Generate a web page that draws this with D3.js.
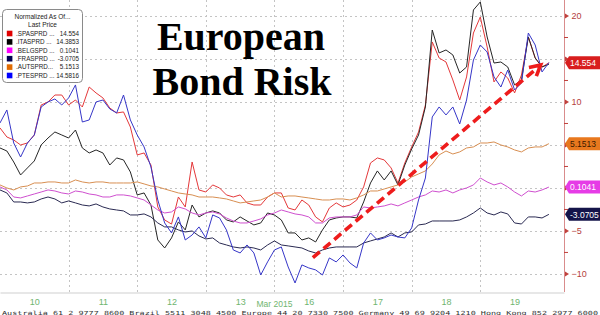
<!DOCTYPE html>
<html><head><meta charset="utf-8">
<script src="https://cdn.jsdelivr.net/npm/d3@7"></script>
<style>body{margin:0;background:#fff;overflow:hidden} svg{display:block}</style>
</head><body><svg id="c" width="600" height="315"></svg>
<script>
// ---------------- data ----------------
const dayLabels = ["10","11","12","13","16","17","18","19"];
const monthLabel = "Mar 2015";
const step = 0.1; // fraction of a trading day between readings
const yTicks = [20, 15, 10, 5, 0, -5, -10];
const yLabelTicks = [20, 10, -5, -10]; // the others sit under the value tags
const yMinorTicks = [17.5, 12.5, 7.5, 2.5, -2.5, -7.5];

const seriesNames = [".SPASPRD ...", ".ITASPRD ...", ".BELGSPD ...", ".FRASPRD ...", ".AUTSPRD...", ".PTESPRD ..."];
const lastPrices = ["14.554", "14.3853", "0.1041", "-3.0705", "5.1513", "14.5816"];

const spa = [6.98,5.93,5.58,5.0,5.23,6.16,9.65,10.0,10.81,10.81,
  9.65,10.23,9.42,11.74,11.05,10.47,9.30,8.72,8.84,7.09,
  3.84,4.07,2.67,-2.21,-3.72,-4.2,-1.05,-2.21,3.02,-0.23,
  -0.47,0.35,0,-0.81,-1.05,-0.81,-1.74,-1.98,-1.98,-1.05,
  -0.58,-0.58,-2.33,-2.56,-1.40,-1.98,-3.37,-3.95,-2.33,-1.74,
  -2.21,-1.98,-1.40,0.12,2.91,3.49,3.26,2.33,0.58,2.91,
  4.77,6.51,9.65,16.98,15.12,14.65,12.56,10.23,12.91,18.02,
  19.88,16.40,12.33,13.49,12.79,11.05,13.14,17.56,15.12,14.07,14.554];
const ita = [4.65,4.30,3.02,1.51,2.33,3.14,5.0,5.81,6.51,6.16,
  5.81,6.74,4.65,4.07,4.42,4.07,2.67,3.49,3.26,1.86,
  -0.81,-0.58,-1.98,-6.05,-6.98,-5.81,-3.95,-4.88,-1.98,-3.37,
  -2.91,-2.67,-2.91,-3.72,-3.95,-3.37,-3.84,-4.30,-4.07,-2.91,
  -3.14,-3.72,-5.23,-5.23,-6.05,-5.81,-6.28,-4.88,-3.72,-3.49,
  -3.37,-3.37,-3.49,-1.63,0.58,1.98,0.93,1.98,0.35,2.67,
  4.53,6.16,9.42,18.37,15.70,16.05,15.47,13.37,14.07,20.70,
  21.63,17.56,14.53,14.65,14.07,11.98,12.56,17.56,15.12,14.07,14.3853];
const belg = [0.12,-0.23,-1.05,-1.16,-0.93,-0.70,-0.47,-0.23,-0.35,-0.58,
  -0.70,-0.35,-0.47,-0.70,-0.81,-1.05,-1.05,-0.81,-0.81,-0.93,
  -1.16,-1.40,-1.98,-2.56,-2.91,-2.79,-2.21,-2.44,-2.91,-3.14,
  -2.91,-2.79,-3.02,-3.49,-3.84,-4.07,-4.07,-3.84,-3.60,-3.14,
  -2.91,-2.56,-2.79,-3.02,-3.14,-3.37,-4.07,-4.07,-3.49,-3.37,
  -3.37,-3.37,-3.14,-2.21,-2.33,-2.21,-2.09,-1.86,-2.09,-1.74,
  -1.40,-1.05,-0.81,-0.35,-0.47,-0.23,-0.58,-0.23,0,0.35,
  1.16,0.70,0.35,0.58,0.12,-0.47,-0.93,-0.35,-0.47,-0.23,0.1041];
const fra = [-0.23,-0.58,-1.63,-1.63,-1.74,-1.63,-1.28,-1.05,-1.28,-1.74,
  -1.51,-1.74,-1.98,-2.09,-1.86,-2.21,-2.44,-2.56,-2.67,-3.14,
  -3.14,-3.02,-3.37,-4.07,-4.53,-4.53,-4.88,-5.12,-5.0,-5.58,
  -5.93,-5.81,-6.40,-6.63,-6.86,-6.98,-6.86,-6.98,-7.21,-6.63,
  -6.16,-6.63,-6.74,-6.86,-6.98,-7.33,-7.56,-7.21,-6.98,-6.86,
  -6.86,-6.86,-6.86,-6.40,-6.16,-5.93,-5.70,-5.23,-5.70,-5.23,
  -5.12,-4.30,-4.19,-3.84,-3.84,-3.84,-3.84,-3.72,-3.37,-2.91,
  -2.33,-2.91,-3.14,-2.79,-3.02,-4.07,-4.19,-3.37,-3.37,-3.49,-3.0705];
const aut = [0.35,0,-0.23,0.12,0.23,0.58,0.58,0.70,0.70,0.58,
  0.58,0.93,0.70,0.58,0.70,0.70,0.58,0.58,0.58,0.58,
  0.70,0.47,0.23,0.12,-0.12,-0.35,-0.58,-0.70,-0.81,-1.05,
  -1.05,-1.05,-1.16,-1.28,-1.51,-1.74,-1.63,-1.51,-1.40,-1.05,
  -0.58,-1.05,-0.93,-0.93,-1.05,-1.16,-1.28,-1.40,-1.40,-1.28,
  -1.28,-1.40,-1.16,-0.81,-0.35,-0.35,-0.12,0.12,0.35,0.70,
  1.28,1.63,1.98,2.79,3.84,4.30,3.95,4.19,4.65,4.77,
  5.23,5.23,5.35,5.0,4.77,4.42,4.19,4.65,4.77,4.77,5.1513];
const pte = [7.56,9.07,5.23,3.60,5.23,6.16,9.42,10.0,10.35,9.65,
  10.47,11.98,7.67,7.91,10.0,10.23,9.19,8.72,10.81,7.91,
  6.16,4.77,2.44,-1.40,-4.07,-5.23,-3.37,-6.05,-5.47,-4.53,
  -5.81,-3.14,-3.49,-4.88,-7.21,-7.56,-6.63,-7.56,-10.12,-8.60,
  -7.21,-6.86,-9.19,-11.05,-8.95,-9.30,-9.53,-10.12,-8.14,-8.60,
  -7.79,-8.72,-9.30,-6.40,-5.23,-6.05,-5.81,-5.47,-5.70,-5.81,
  -4.65,-1.40,1.16,8.26,9.42,8.49,9.42,7.44,10.23,14.88,
  16.63,15.81,12.91,11.74,13.72,11.40,12.21,18.02,16.63,13.49,14.5816];

// annotation arrow in (trading day, value) coordinates
const arrowStart = [4.56, -8.1];
const arrowEnd = [7.88, 14.3];

// ---------------- styles ----------------
const lineColors = ["#e4383a", "#262626", "#cf4fcf", "#2a2a52", "#d88f52", "#3636c8"];
const swatchColors = ["#e00000", "#000000", "#ff00ff", "#000050", "#e06a00", "#0000ff"];
const tagDefs = [
  {idx: 0, fill: "#d81e1e", text: "#ffffff"},
  {idx: 4, fill: "#e8781e", text: "#3a1a00"},
  {idx: 2, fill: "#e63ce6", text: "#ffffff"},
  {idx: 3, fill: "#14144a", text: "#ffffff"}
];

const allSeries = [spa, ita, belg, fra, aut, pte];

const svg = d3.select("#c");
const W = 600, H = 315;
const plotR = 564, plotB = 292;

const x = d3.scaleLinear().domain([0, 8.22]).range([0, plotR]);
const y = d3.scaleLinear().domain([-12.1, 21.86]).range([plotB, 0]);

svg.append("rect").attr("width", W).attr("height", H).attr("fill", "#fff");

// grid
const grid = svg.append("g");
grid.selectAll("line.h").data(yTicks).join("line")
  .attr("x1", 0).attr("x2", plotR)
  .attr("y1", d => Math.round(y(d)) + 0.5).attr("y2", d => Math.round(y(d)) + 0.5)
  .attr("stroke", "#c4c4c4").attr("stroke-width", 1).attr("stroke-dasharray", "2,3");
grid.selectAll("line.v").data(d3.range(1, 8)).join("line")
  .attr("x1", d => Math.round(x(d)) + 0.5).attr("x2", d => Math.round(x(d)) + 0.5)
  .attr("y1", 0).attr("y2", plotB)
  .attr("stroke", "#c4c4c4").attr("stroke-width", 1).attr("stroke-dasharray", "2,3");

// bottom axis
const xAxis = d3.axisBottom(x)
  .tickValues(dayLabels.map((d, i) => i + 0.5))
  .tickFormat((d, i) => dayLabels[i])
  .tickSize(0).tickPadding(6);
const gx = svg.append("g").attr("transform", `translate(0,${plotB + 0.5})`).call(xAxis);
gx.select(".domain").attr("stroke", "#cfcfcf");
gx.selectAll("text").attr("fill", "#6fb56f").attr("font-family", "Liberation Sans, Arial, sans-serif").attr("font-size", 9);
svg.append("text").attr("x", x(4)).attr("y", 307).attr("text-anchor", "middle")
  .attr("fill", "#6fb56f").attr("font-family", "Liberation Sans, Arial, sans-serif").attr("font-size", 8.5)
  .text(monthLabel);

// lines
svg.append("clipPath").attr("id", "pc").append("rect")
  .attr("x", 0).attr("y", 0).attr("width", plotR).attr("height", plotB);
const line = d3.line().x((d, i) => x(i * step)).y(d => y(d));
const gl = svg.append("g").attr("clip-path", "url(#pc)");
allSeries.forEach((s, k) => {
  gl.append("path").attr("d", line(s)).attr("fill", "none")
    .attr("stroke", lineColors[k]).attr("stroke-width", 1).attr("stroke-linejoin", "round");
});

// right axis
const yAxis = d3.axisRight(y).tickValues(yLabelTicks).tickSize(0).tickSizeOuter(0).tickPadding(7)
  .tickFormat(d3.format("d"));
const gy = svg.append("g").attr("transform", `translate(${plotR + 0.5},0)`).call(yAxis);
gy.select(".domain").attr("stroke", "#d98c8c").attr("d", `M0,0V${plotB}`);
gy.selectAll("text").attr("fill", "#b4403c").attr("font-family", "Liberation Sans, Arial, sans-serif").attr("font-size", 9);
svg.append("g").selectAll("path").data(yTicks).join("path")
  .attr("d", d => `M${plotR + 1},${y(d) - 2.5}L${plotR + 5},${y(d)}L${plotR + 1},${y(d) + 2.5}Z`)
  .attr("fill", "#c0403c");
svg.append("g").selectAll("line").data(yMinorTicks).join("line")
  .attr("x1", plotR).attr("x2", plotR + 4).attr("y1", d => y(d)).attr("y2", d => y(d))
  .attr("stroke", "#c0403c").attr("stroke-width", 1);

// value tags
const tg = svg.append("g");
tagDefs.forEach(t => {
  const v = +lastPrices[t.idx];
  const yc = y(v);
  tg.append("path")
    .attr("d", `M${plotR + 1},${yc}L${plotR + 5},${yc - 6.5}H${W}V${yc + 6.5}H${plotR + 5}Z`)
    .attr("fill", t.fill);
  tg.append("text").attr("x", plotR + 6).attr("y", yc + 3.2)
    .attr("fill", t.text).attr("font-family", "Liberation Sans, Arial, sans-serif").attr("font-size", 8.5)
    .text(lastPrices[t.idx]);
});

// annotation arrow
const ax1 = x(arrowStart[0]), ay1 = y(arrowStart[1]);
const ax2 = x(arrowEnd[0]), ay2 = y(arrowEnd[1]);
const ang = Math.atan2(ay2 - ay1, ax2 - ax1);
const back = 4;
svg.append("line")
  .attr("x1", ax1).attr("y1", ay1)
  .attr("x2", ax2 - back * Math.cos(ang)).attr("y2", ay2 - back * Math.sin(ang))
  .attr("stroke", "#ee1c1c").attr("stroke-width", 3.6).attr("stroke-dasharray", "9,5");
const hl = 12, ha = 0.5;
svg.append("path")
  .attr("d", `M${ax2 - hl * Math.cos(ang - ha)},${ay2 - hl * Math.sin(ang - ha)}L${ax2},${ay2}L${ax2 - hl * Math.cos(ang + ha)},${ay2 - hl * Math.sin(ang + ha)}`)
  .attr("fill", "none").attr("stroke", "#ee1c1c").attr("stroke-width", 3.6).attr("stroke-linejoin", "miter");

// title
const title = svg.append("text").attr("text-anchor", "middle")
  .attr("font-family", "Liberation Serif, 'Times New Roman', serif").attr("font-weight", "bold")
  .attr("font-size", 40).attr("fill", "#000");
title.append("tspan").attr("x", 241).attr("y", 50).text("European");
title.append("tspan").attr("x", 242).attr("y", 95).text("Bond Risk");

// legend
const lg = svg.append("g").attr("transform", "translate(2.5,9.5)");
lg.append("rect").attr("width", 80).attr("height", 73).attr("rx", 4)
  .attr("fill", "#fff").attr("stroke", "#8a8a8a").attr("stroke-width", 1);
const lf = "Liberation Sans, Arial, sans-serif";
lg.append("text").attr("x", 40).attr("y", 9.5).attr("text-anchor", "middle")
  .attr("font-family", lf).attr("font-size", 6.5).attr("fill", "#222").text("Normalized As Of...");
lg.append("text").attr("x", 40).attr("y", 17.5).attr("text-anchor", "middle")
  .attr("font-family", lf).attr("font-size", 6.5).attr("fill", "#222").text("Last Price");
seriesNames.forEach((n, i) => {
  const yy = 24 + i * 8.4;
  lg.append("rect").attr("x", 4.3).attr("y", yy - 2.8).attr("width", 5.6).attr("height", 5.6)
    .attr("fill", swatchColors[i]);
  lg.append("text").attr("x", 13.5).attr("y", yy + 2.2)
    .attr("font-family", lf).attr("font-size", 6.3).attr("fill", "#222").text(n);
  lg.append("text").attr("x", 76.5).attr("y", yy + 2.2).attr("text-anchor", "end")
    .attr("font-family", lf).attr("font-size", 6.3).attr("fill", "#222").text(lastPrices[i]);
});

// footer
svg.append("text").attr("x", 2).attr("y", 314.5)
  .attr("font-family", "DejaVu Sans Mono, monospace").attr("font-size", 5.6).attr("fill", "#333")
  .attr("textLength", 596).attr("lengthAdjust", "spacingAndGlyphs")
  .text("Australia 61 2 9777 8600 Brazil 5511 3048 4500 Europe 44 20 7330 7500 Germany 49 69 9204 1210 Hong Kong 852 2977 6000");
</script>
</body></html>
